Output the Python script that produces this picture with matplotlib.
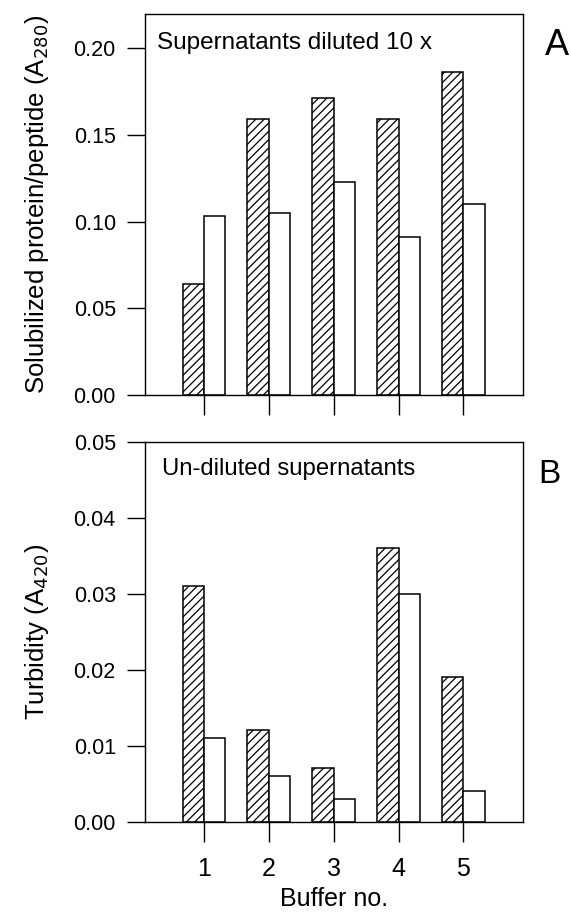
import numpy as np
import matplotlib
matplotlib.use("Agg")
import matplotlib.pyplot as plt

plt.rcParams['font.family'] = ['Liberation Sans', 'DejaVu Sans']
plt.rcParams['hatch.linewidth'] = 0.9

# data
buffers = [1, 2, 3, 4, 5]
a280_hatched = [0.064, 0.159, 0.171, 0.159, 0.186]
a280_open = [0.103, 0.105, 0.123, 0.091, 0.110]
a420_hatched = [0.031, 0.012, 0.007, 0.036, 0.019]
a420_open = [0.011, 0.006, 0.003, 0.030, 0.004]

fig = plt.figure(figsize=(5.71, 9.15), dpi=100)
ax1 = fig.add_axes([0.254, 0.5683, 0.662, 0.4164])
ax2 = fig.add_axes([0.254, 0.102, 0.662, 0.4153])

w = 0.33
x = np.array(buffers)

def draw_panel(ax, hatched, opened, ymax, label, note, note_x, note_y, note_size):
    ax.bar(x - w / 2, hatched, width=w, color="white", edgecolor="black",
           linewidth=1.1, hatch="////")
    ax.bar(x + w / 2, opened, width=w, color="white", edgecolor="black",
           linewidth=1.1)
    ax.set_xlim(0.09, 5.92)
    ax.set_ylim(0, ymax)
    ax.set_xticks(buffers)
    ax.tick_params(axis="y", direction="out", length=13, width=1.0, pad=8, labelsize=15.5)
    ax.tick_params(axis="x", direction="out", length=14.5, width=1.0, pad=11, labelsize=18)
    for s in ax.spines.values():
        s.set_linewidth(1.0)
    ax.set_ylabel(label, fontsize=18.5, labelpad=16)
    ax.text(note_x, note_y, note, transform=ax.transAxes, fontsize=note_size, va="baseline")

draw_panel(ax1, a280_hatched, a280_open, 0.2196,
           "Solubilized protein/peptide (A$_{280}$)", "Supernatants diluted 10 x",
           0.032, 0.908, 17.5)
ax1.set_yticks([0.00, 0.05, 0.10, 0.15, 0.20])
ax1.set_yticklabels(["0.00", "0.05", "0.10", "0.15", "0.20"])
ax1.tick_params(axis="x", labelbottom=False)

draw_panel(ax2, a420_hatched, a420_open, 0.05,
           "Turbidity (A$_{420}$)", "Un-diluted supernatants",
           0.044, 0.912, 17.2)
ax2.set_yticks([0.00, 0.01, 0.02, 0.03, 0.04, 0.05])
ax2.set_yticklabels(["0.00", "0.01", "0.02", "0.03", "0.04", "0.05"])
ax2.set_xlabel("Buffer no.", fontsize=18, labelpad=4)

fig.text(0.954, 0.940, "A", fontsize=26, va="baseline")
fig.text(0.942, 0.472, "B", fontsize=24, va="baseline")

fig.savefig("out.png", dpi=100)
